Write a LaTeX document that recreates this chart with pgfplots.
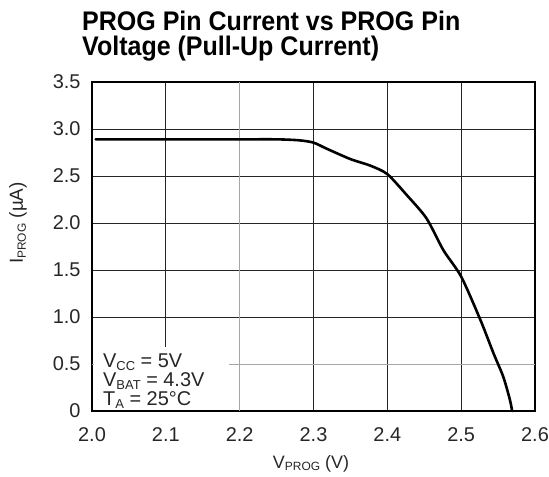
\documentclass[border=0pt]{standalone}
\usepackage{fontspec}
\setmainfont{Liberation Sans}
\usepackage{graphicx}
\usepackage{pgfplots}
\pgfplotsset{compat=1.18}
\newcommand{\sub}[2][12]{\raisebox{-0.3ex}{\fontsize{#1}{#1}\selectfont #2}}
\begin{document}
\begin{tikzpicture}[x=1bp,y=1bp]
\useasboundingbox (-92bp,-66bp) rectangle (457bp,411bp);
\begin{axis}[
  at={(0,0)}, anchor=south west,
  scale only axis, width=443bp, height=329bp,
  xmin=2.0, xmax=2.6, ymin=0, ymax=3.5,
  xtick={2.0,2.1,2.2,2.3,2.4,2.5,2.6},
  xticklabels={2.0,2.1,2.2,2.3,2.4,2.5,2.6},
  ytick={0,0.5,1,1.5,2,2.5,3,3.5},
  yticklabels={0,0.5,1.0,1.5,2.0,2.5,3.0,3.5},
  grid=major,
  major grid style={black!85, line width=0.9bp},
  axis line style={black, line width=1.2bp},
  major tick length=0pt,
  tick label style={font=\fontsize{20}{20}\selectfont, text=black!85},
  xticklabel style={yshift=-13bp},
  yticklabel style={xshift=-8bp},
  /pgf/number format/assume math mode=true,
  clip=false,
]
\draw[gray!70, line width=0.9bp] (axis cs:2.2,0) -- (axis cs:2.2,3.5);
\draw[gray!70, line width=0.9bp] (axis cs:2.0,0.5) -- (axis cs:2.6,0.5);
\fill[white] (rel axis cs:0.004,0.004) rectangle (rel axis cs:0.31,0.195);
\addplot[black, line width=2.6bp, line join=round, line cap=round, smooth, tension=0.45] coordinates {
(2.005,2.89) (2.10,2.89) (2.20,2.89) (2.25,2.89) (2.28,2.88) (2.30,2.855)
(2.318,2.79) (2.35,2.68) (2.377,2.61) (2.40,2.52) (2.426,2.30) (2.453,2.05)
(2.476,1.71) (2.50,1.43) (2.526,0.97) (2.544,0.61) (2.557,0.365) (2.566,0.12)
(2.569,0.0)
};
\end{axis}
% title
\node[anchor=base west, inner sep=0] at (-10,381) {\scalebox{0.93}[1]{\fontsize{27}{27}\selectfont\bfseries PROG Pin Current vs PROG Pin}};
\node[anchor=base west, inner sep=0] at (-10,356) {\scalebox{0.93}[1]{\fontsize{27}{27}\selectfont\bfseries Voltage (Pull-Up Current)}};
% axis labels
\node[rotate=90, inner sep=0, text=black!85] at (-74,188) {\fontsize{19}{19}\selectfont I\sub[12]{PROG} (µA)};
\node[anchor=base, inner sep=0, text=black!85] at (219,-57) {\fontsize{18}{18}\selectfont V\sub[12]{PROG} (V)};
% conditions
\node[anchor=base west, inner sep=0, text=black!85] at (11,44) {\fontsize{20}{20}\selectfont V\sub[13]{CC} = 5V};
\node[anchor=base west, inner sep=0, text=black!85] at (11,25) {\fontsize{20}{20}\selectfont V\sub[13]{BAT} = 4.3V};
\node[anchor=base west, inner sep=0, text=black!85] at (11,6) {\fontsize{20}{20}\selectfont T\sub[13]{A} = 25°C};
\end{tikzpicture}
\end{document}
